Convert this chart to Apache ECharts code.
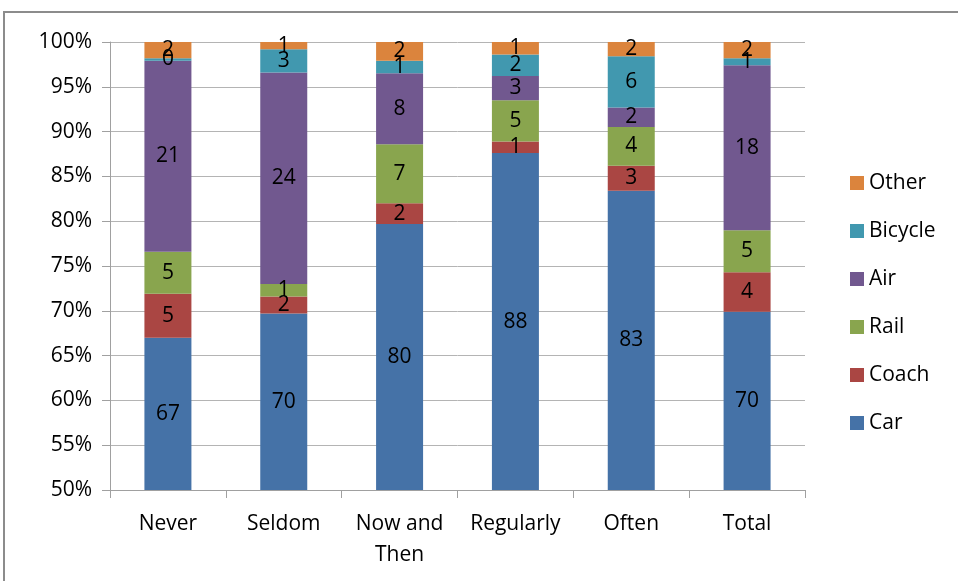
<!DOCTYPE html>
<html>
<head>
<meta charset="utf-8">
<script src="https://cdn.jsdelivr.net/npm/echarts@6/dist/echarts.min.js"></script>
<style>
  html, body { margin: 0; padding: 0; background: #fff; }
  #chart { width: 958px; height: 581px; }
</style>
</head>
<body>
<div id="chart"></div>
<script>
// categories on the x axis
var categories = ['Never', 'Seldom', 'Now and\nThen', 'Regularly', 'Often', 'Total']

// share of each mode in percent
var car = [67.0, 69.7, 79.7, 87.6, 83.4, 69.9]
var coach = [4.9, 1.9, 2.3, 1.3, 2.8, 4.4]
var rail = [4.7, 1.4, 6.6, 4.6, 4.3, 4.7]
var air = [21.3, 23.6, 7.9, 2.7, 2.2, 18.4]
var bicycle = [0.3, 2.6, 1.4, 2.4, 5.7, 0.8]
var other = [1.8, 0.8, 2.1, 1.4, 1.6, 1.8]

var yTicks = { min: 50, max: 100, interval: 5 }

var font = "'Open Sans', 'Liberation Sans', sans-serif"

function makeSeries(name, data, color) {
  return {
    name: name,
    type: 'bar',
    stack: 'all',
    barWidth: 47,
    data: data,
    itemStyle: { color: color },
    label: {
      show: true,
      position: 'inside',
      color: '#000',
      fontFamily: font,
      fontSize: 21,
      formatter: function(p) { return Math.round(p.value) }
    }
  }
}

var chart = echarts.init(document.getElementById('chart'))

chart.setOption({
  animation: false,
  backgroundColor: '#fff',
  grid: { left: 110, right: 153, top: 42, bottom: 91 },
  legend: {
    orient: 'vertical',
    left: 845,
    top: 166,
    itemWidth: 14,
    itemHeight: 14,
    itemGap: 24,
    icon: 'rect',
    textStyle: { fontFamily: font, fontSize: 21, color: '#000', lineHeight: 24 },
    data: ['Other', 'Bicycle', 'Air', 'Rail', 'Coach', 'Car']
  },
  xAxis: {
    type: 'category',
    data: categories,
    axisLine: { lineStyle: { color: '#a0a0a0' } },
    axisTick: { show: true, alignWithLabel: false, length: 8, lineStyle: { color: '#a0a0a0' } },
    axisLabel: { color: '#000', fontFamily: font, fontSize: 21, margin: 19, lineHeight: 31, interval: 0 }
  },
  yAxis: {
    type: 'value',
    min: yTicks.min,
    max: yTicks.max,
    interval: yTicks.interval,
    axisLine: { show: true, lineStyle: { color: '#a0a0a0' } },
    axisTick: { show: true, length: 8, lineStyle: { color: '#a0a0a0' } },
    axisLabel: { color: '#000', fontFamily: font, fontSize: 21, margin: 18, formatter: '{value}%' },
    splitLine: { lineStyle: { color: '#b4b4b4' } }
  },
  graphic: [{
    type: 'rect',
    shape: { x: 4, y: 12, width: 1000, height: 700 },
    style: { fill: 'none', stroke: '#8c8c8c', lineWidth: 2 },
    silent: true
  }],
  series: [
    makeSeries('Car', car, '#4572A7'),
    makeSeries('Coach', coach, '#AA4643'),
    makeSeries('Rail', rail, '#89A54E'),
    makeSeries('Air', air, '#71588F'),
    makeSeries('Bicycle', bicycle, '#4198AF'),
    makeSeries('Other', other, '#DB843D')
  ]
})
</script>
</body>
</html>
